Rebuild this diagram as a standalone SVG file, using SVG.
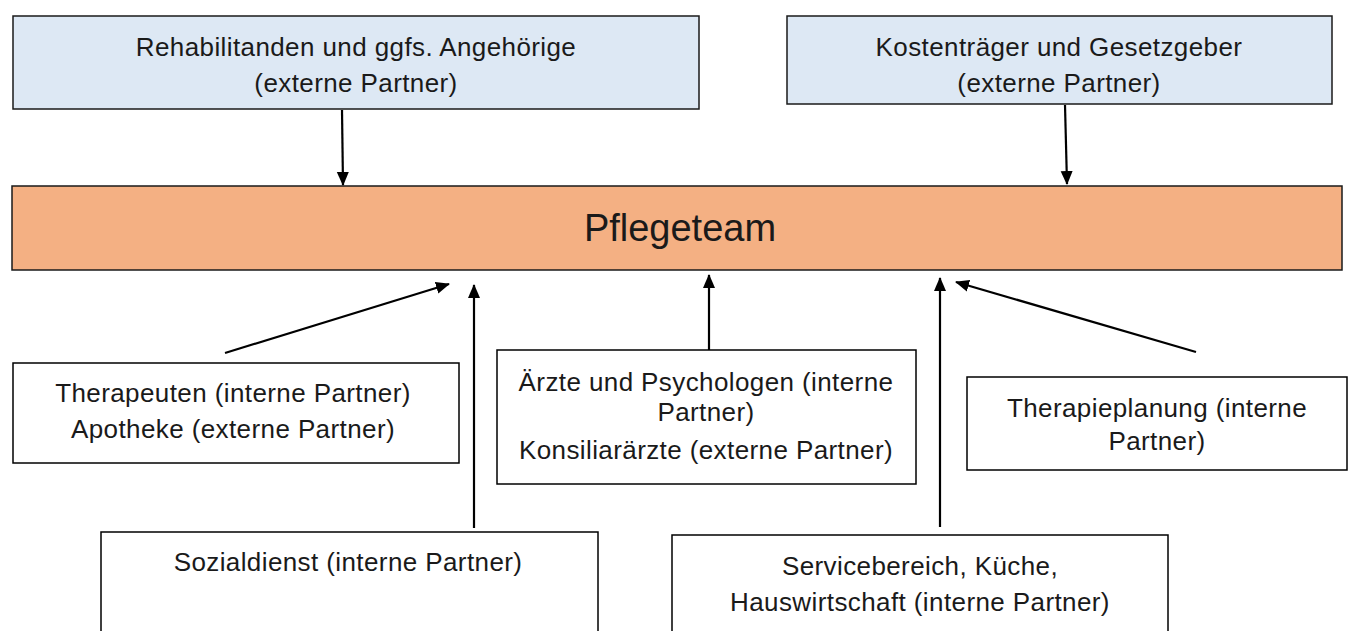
<svg xmlns="http://www.w3.org/2000/svg" width="1355" height="631" viewBox="0 0 1355 631">
<defs>
<marker id="ah" markerWidth="14" markerHeight="14" refX="13" refY="6" orient="auto" markerUnits="userSpaceOnUse" viewBox="0 0 14 12">
<path d="M0,0 L14,6 L0,12 z" fill="#000"/>
</marker>
<style>
.box{fill:#fff;stroke:#000;stroke-width:1.5}
.ext{fill:#dde8f4;stroke:#1a1a1a;stroke-width:1.5}
.core{fill:#f4b083;stroke:#1a1a1a;stroke-width:1.5}
text{font-family:"Liberation Sans","DejaVu Sans",sans-serif;font-size:26px;fill:#1a1a1a;text-anchor:middle;letter-spacing:0.4px}
.big{font-size:38px;letter-spacing:0}
.con{stroke:#000;stroke-width:2.2;fill:none;marker-end:url(#ah)}
</style>
</defs>
<rect width="1355" height="631" fill="#fff"/>
<g id="n-reha">
<rect class="ext" x="13" y="16" width="686" height="93"/>
<text x="356" y="56">Rehabilitanden und ggfs. Angehörige</text>
<text x="356" y="92">(externe Partner)</text>
</g>
<g id="n-kosten">
<rect class="ext" x="787" y="16" width="545" height="88"/>
<text x="1059" y="56">Kostenträger und Gesetzgeber</text>
<text x="1059" y="92">(externe Partner)</text>
</g>
<g id="n-pflege">
<rect class="core" x="12" y="186" width="1330" height="84"/>
<text class="big" x="680" y="241">Pflegeteam</text>
</g>
<g id="n-therapeuten">
<rect class="box" x="13" y="363" width="446" height="100"/>
<text x="233" y="402">Therapeuten (interne Partner)</text>
<text x="233" y="438">Apotheke (externe Partner)</text>
</g>
<g id="n-aerzte">
<rect class="box" x="497" y="350" width="419" height="134"/>
<text x="706" y="391">Ärzte und Psychologen (interne</text>
<text x="706" y="421">Partner)</text>
<text x="706" y="459">Konsiliarärzte (externe Partner)</text>
</g>
<g id="n-therapieplanung">
<rect class="box" x="967" y="377" width="380" height="93"/>
<text x="1157" y="417">Therapieplanung (interne</text>
<text x="1157" y="450">Partner)</text>
</g>
<g id="n-sozial">
<rect class="box" x="101" y="532" width="497" height="110"/>
<text x="348" y="571">Sozialdienst (interne Partner)</text>
</g>
<g id="n-service">
<rect class="box" x="672" y="535" width="496" height="110"/>
<text x="920" y="575">Servicebereich, Küche,</text>
<text x="920" y="611">Hauswirtschaft (interne Partner)</text>
</g>
<g id="connectors">
<line class="con" x1="342" y1="110" x2="343" y2="185"/>
<line class="con" x1="1065" y1="105" x2="1067" y2="184"/>
<line class="con" x1="225" y1="353" x2="449" y2="284"/>
<line class="con" x1="474" y1="528" x2="474" y2="285"/>
<line class="con" x1="709" y1="350" x2="709" y2="275"/>
<line class="con" x1="940" y1="527" x2="940" y2="278"/>
<line class="con" x1="1196" y1="352" x2="956" y2="282"/>
</g>
</svg>
